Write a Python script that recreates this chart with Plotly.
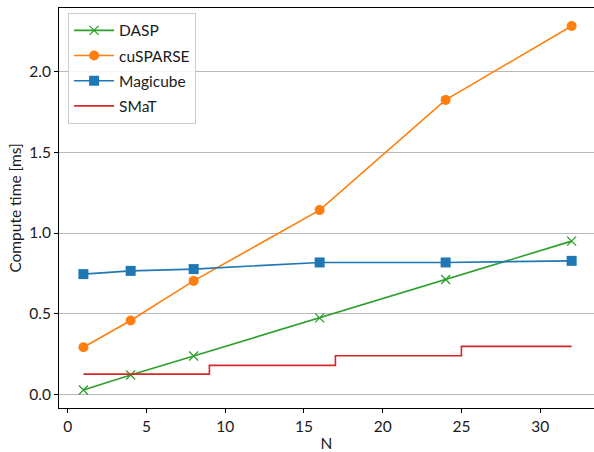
import plotly.graph_objects as go

N = [1, 4, 8, 16, 24, 32]
dasp = [0.029, 0.122, 0.239, 0.475, 0.713, 0.950]
cusparse = [0.293, 0.459, 0.704, 1.142, 1.824, 2.281]
magicube = [0.746, 0.766, 0.777, 0.818, 0.818, 0.828]
smat_n = [1, 9, 17, 25, 32]
smat = [0.127, 0.181, 0.241, 0.299, 0.299]

FONT = "Lato"
fig = go.Figure()
fig.add_trace(go.Scatter(x=N, y=dasp, name="DASP", mode="lines+markers", legendgroup="a",
                         line=dict(color="#2ca02c", width=1.6),
                         marker=dict(symbol="x-thin", size=9, line=dict(color="#2ca02c", width=1.3))))
fig.add_trace(go.Scatter(x=N, y=cusparse, name="cuSPARSE", mode="lines+markers", legendgroup="b",
                         line=dict(color="#ff7f0e", width=1.6),
                         marker=dict(symbol="circle", size=10, color="#ff7f0e")))
fig.add_trace(go.Scatter(x=N, y=magicube, name="Magicube", mode="lines+markers", legendgroup="c",
                         line=dict(color="#1f77b4", width=1.6),
                         marker=dict(symbol="square", size=10, color="#1f77b4")))
fig.add_trace(go.Scatter(x=smat_n, y=smat, name="SMaT", mode="lines", legendgroup="d",
                         line=dict(color="#d62728", width=1.6, shape="hv")))

fig.update_layout(
    width=594, height=452,
    margin=dict(l=59, r=0, t=8, b=44, autoexpand=False),
    paper_bgcolor="white", plot_bgcolor="white",
    font=dict(family=FONT, size=15.5, color="#1a1a1a"),
    legend=dict(x=0.017, y=0.988, xanchor="left", yanchor="top",
                bgcolor="rgba(255,255,255,0.85)", bordercolor="#cccccc", borderwidth=1,
                tracegroupgap=2, itemwidth=40, entrywidth=125, entrywidthmode="pixels",
                font=dict(family=FONT, size=15.5, color="#1a1a1a")),
    showlegend=True,
)
fig.update_xaxes(range=[-0.55, 33.42], tickvals=[0, 5, 10, 15, 20, 25, 30], automargin=False,
                 showgrid=False, zeroline=False, showline=True, linecolor="black", linewidth=1,
                 mirror=True, ticks="outside", ticklen=4, tickcolor="black",
                 title=dict(text="N", standoff=4, font=dict(size=15.5)))
fig.update_yaxes(range=[-0.0825, 2.3925], tickvals=[0, 0.5, 1.0, 1.5, 2.0], tickformat=".1f",
                 automargin=False,
                 showgrid=True, gridcolor="#b8b8b8", gridwidth=1, zeroline=False,
                 showline=True, linecolor="black", linewidth=1, mirror=False,
                 ticks="outside", ticklen=4, tickcolor="black",
                 title=dict(text="Compute time [ms]", standoff=3, font=dict(size=15.5)))

fig.write_html("out.html", config={"displayModeBar": False},
               post_script="document.body.style.margin='0';")
